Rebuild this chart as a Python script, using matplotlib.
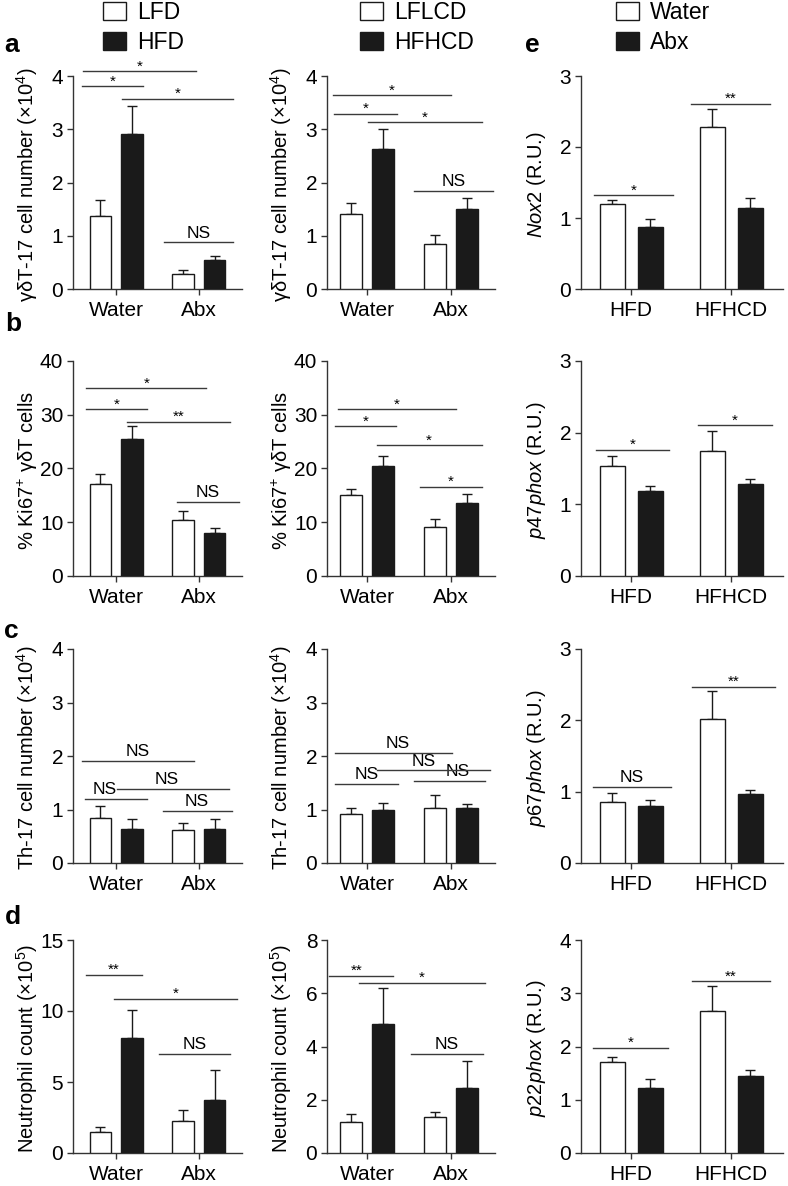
import matplotlib
matplotlib.use('Agg')
import matplotlib.pyplot as plt
import numpy as np

plt.rcParams['font.family'] = ['Liberation Sans', 'DejaVu Sans']
plt.rcParams['mathtext.fontset'] = 'custom'
plt.rcParams['mathtext.rm'] = 'Liberation Sans'
plt.rcParams['mathtext.it'] = 'Liberation Sans:italic'
plt.rcParams['mathtext.bf'] = 'Liberation Sans:bold'

# ---------------- data ----------------
groups_ab = ['Water', 'Abx']
groups_e = ['HFD', 'HFHCD']

legend_a = ['LFD', 'HFD']
legend_b = ['LFLCD', 'HFHCD']
legend_e = ['Water', 'Abx']

# column 1 (LFD / HFD)
a1_white = [1.375, 0.29]; a1_white_err = [0.29, 0.06]
a1_black = [2.92, 0.55];  a1_black_err = [0.52, 0.07]
b1_white = [17.1, 10.5];  b1_white_err = [1.8, 1.6]
b1_black = [25.5, 8.0];   b1_black_err = [2.4, 1.0]
c1_white = [0.84, 0.61];  c1_white_err = [0.22, 0.14]
c1_black = [0.64, 0.64];  c1_black_err = [0.19, 0.19]
d1_white = [1.51, 2.24];  d1_white_err = [0.33, 0.79]
d1_black = [8.13, 3.73];  d1_black_err = [1.93, 2.14]

# column 2 (LFLCD / HFHCD)
a2_white = [1.41, 0.84];  a2_white_err = [0.20, 0.17]
a2_black = [2.62, 1.51];  a2_black_err = [0.39, 0.19]
b2_white = [15.0, 9.05];  b2_white_err = [1.1, 1.55]
b2_black = [20.5, 13.6];  b2_black_err = [1.9, 1.6]
c2_white = [0.91, 1.03];  c2_white_err = [0.12, 0.24]
c2_black = [0.99, 1.03];  c2_black_err = [0.13, 0.08]
d2_white = [1.16, 1.37];  d2_white_err = [0.31, 0.18]
d2_black = [4.84, 2.45];  d2_black_err = [1.34, 1.00]

# column 3 (Water / Abx)
nox2_white = [1.20, 2.28];  nox2_white_err = [0.05, 0.25]
nox2_black = [0.87, 1.14];  nox2_black_err = [0.12, 0.14]
p47_white = [1.54, 1.75];   p47_white_err = [0.13, 0.27]
p47_black = [1.18, 1.28];   p47_black_err = [0.08, 0.07]
p67_white = [0.86, 2.02];   p67_white_err = [0.12, 0.39]
p67_black = [0.80, 0.97];   p67_black_err = [0.09, 0.06]
p22_white = [1.71, 2.66];   p22_white_err = [0.10, 0.47]
p22_black = [1.22, 1.45];   p22_black_err = [0.17, 0.11]

# significance annotations: (x_start, x_end, y, label, text_x or None)
sig_a1 = [(-0.40, 0.96, 4.09, '*', None), (-0.41, 0.33, 3.81, '*', None),
          (0.07, 1.41, 3.575, '*', None), (0.58, 1.41, 0.875, 'NS', None)]
sig_b1 = [(-0.36, 1.09, 34.9, '*', None), (-0.36, 0.37, 31.0, '*', None),
          (0.13, 1.38, 28.7, '**', None), (0.74, 1.48, 13.8, 'NS', None)]
sig_c1 = [(-0.41, 0.94, 1.91, 'NS', None), (-0.37, 0.37, 1.20, 'NS', -0.14),
          (0.01, 1.36, 1.38, 'NS', 0.61), (0.57, 1.40, 0.975, 'NS', 0.97)]
sig_d1 = [(-0.36, 0.31, 12.56, '**', None), (-0.03, 1.46, 10.86, '*', None),
          (0.52, 1.38, 6.96, 'NS', None)]

sig_a2 = [(-0.41, 1.00, 3.64, '*', None), (-0.40, 0.35, 3.29, '*', None),
          (0.01, 1.36, 3.13, '*', None), (0.55, 1.50, 1.84, 'NS', None)]
sig_b2 = [(-0.35, 1.05, 31.0, '*', None), (-0.39, 0.34, 27.9, '*', None),
          (0.11, 1.36, 24.3, '*', None), (0.63, 1.36, 16.6, '*', None)]
sig_c2 = [(-0.39, 1.01, 2.06, 'NS', 0.36), (0.11, 1.46, 1.73, 'NS', 0.67),
          (-0.38, 0.36, 1.47, 'NS', -0.01), (0.56, 1.40, 1.53, 'NS', 1.07)]
sig_d2 = [(-0.46, 0.30, 6.66, '**', -0.13), (-0.10, 1.40, 6.39, '*', None),
          (0.52, 1.38, 3.73, 'NS', None)]

sig_nox2 = [(-0.37, 0.42, 1.32, '*', None), (0.60, 1.39, 2.61, '**', None)]
sig_p47 = [(-0.35, 0.38, 1.76, '*', None), (0.67, 1.41, 2.10, '*', None)]
sig_p67 = [(-0.38, 0.40, 1.07, 'NS', None), (0.61, 1.44, 2.47, '**', None)]
sig_p22 = [(-0.38, 0.37, 1.98, '*', None), (0.61, 1.39, 3.23, '**', None)]

# ---------------- layout ----------------
W, H = 788, 1186
fig = plt.figure(figsize=(W / 100, H / 100), dpi=100)

col_left = [73, 327, 581]
col_width = [169, 168, 202]
col_xlim = [(-0.52, 1.52), (-0.48, 1.52), (-0.50, 1.52)]
row_top = [76, 361, 649, 940]
row_bot = [289, 576, 863, 1153]

lab_gamma = 'γδT-17 cell number (×10$^{4}$)'
lab_ki = '% Ki67$^{+}$ γδT cells'
lab_th = 'Th-17 cell number (×10$^{4}$)'
lab_neu = 'Neutrophil count (×10$^{5}$)'

panels = [
    (0, 0, groups_ab, a1_white, a1_white_err, a1_black, a1_black_err, sig_a1, lab_gamma, 4, [0, 1, 2, 3, 4]),
    (1, 0, groups_ab, b1_white, b1_white_err, b1_black, b1_black_err, sig_b1, lab_ki, 40, [0, 10, 20, 30, 40]),
    (2, 0, groups_ab, c1_white, c1_white_err, c1_black, c1_black_err, sig_c1, lab_th, 4, [0, 1, 2, 3, 4]),
    (3, 0, groups_ab, d1_white, d1_white_err, d1_black, d1_black_err, sig_d1, lab_neu, 15, [0, 5, 10, 15]),
    (0, 1, groups_ab, a2_white, a2_white_err, a2_black, a2_black_err, sig_a2, lab_gamma, 4, [0, 1, 2, 3, 4]),
    (1, 1, groups_ab, b2_white, b2_white_err, b2_black, b2_black_err, sig_b2, lab_ki, 40, [0, 10, 20, 30, 40]),
    (2, 1, groups_ab, c2_white, c2_white_err, c2_black, c2_black_err, sig_c2, lab_th, 4, [0, 1, 2, 3, 4]),
    (3, 1, groups_ab, d2_white, d2_white_err, d2_black, d2_black_err, sig_d2, lab_neu, 8, [0, 2, 4, 6, 8]),
    (0, 2, groups_e, nox2_white, nox2_white_err, nox2_black, nox2_black_err, sig_nox2, r'$\mathit{Nox2}$ (R.U.)', 3, [0, 1, 2, 3]),
    (1, 2, groups_e, p47_white, p47_white_err, p47_black, p47_black_err, sig_p47, r'$\mathit{p47phox}$ (R.U.)', 3, [0, 1, 2, 3]),
    (2, 2, groups_e, p67_white, p67_white_err, p67_black, p67_black_err, sig_p67, r'$\mathit{p67phox}$ (R.U.)', 3, [0, 1, 2, 3]),
    (3, 2, groups_e, p22_white, p22_white_err, p22_black, p22_black_err, sig_p22, r'$\mathit{p22phox}$ (R.U.)', 4, [0, 1, 2, 3, 4]),
]

EDGE = '#1a1a1a'
AXC = '#333333'
TICK_FS = 15
legend_handles = {}

for (r, c, cats, wv, we, bv, be, sig, ylabel, ymax, yticks) in panels:
    left, width = col_left[c], col_width[c]
    top, bot = row_top[r], row_bot[r]
    ax = fig.add_axes([left / W, 1 - bot / H, width / W, (bot - top) / H])
    x = np.arange(len(cats))
    off, bw = 0.19, (0.26 if c < 2 else 0.25)
    hw = ax.bar(x - off, wv, bw, color='white', edgecolor=EDGE, linewidth=1.0, zorder=3)
    hb = ax.bar(x + off, bv, bw, color=EDGE, edgecolor=EDGE, linewidth=1.0, zorder=3)
    ax.errorbar(x - off, wv, yerr=[np.zeros(len(wv)), we], fmt='none', ecolor=EDGE,
                elinewidth=1.0, capsize=3.5, capthick=1.0, zorder=2)
    ax.errorbar(x + off, bv, yerr=[np.zeros(len(bv)), be], fmt='none', ecolor=EDGE,
                elinewidth=1.0, capsize=3.5, capthick=1.0, zorder=2)
    if r == 0:
        legend_handles[c] = (hw, hb)
    ax.set_xlim(*col_xlim[c])
    ax.set_ylim(0, ymax)
    ax.set_yticks(yticks)
    ax.set_xticks(x)
    ax.set_xticklabels(cats)
    for s in ['top', 'right']:
        ax.spines[s].set_visible(False)
    for s in ['left', 'bottom']:
        ax.spines[s].set_color(AXC)
        ax.spines[s].set_linewidth(1.0)
    ax.tick_params(axis='both', direction='out', length=4.5, width=1.0, color=AXC,
                   labelsize=TICK_FS, pad=2.5)
    ax.tick_params(axis='x', pad=4)
    ax.set_ylabel(ylabel, fontsize=14.5)
    ax.yaxis.set_label_coords(-33 / width, 0.49)
    for (x1, x2, yv, lab, tx) in sig:
        ax.plot([x1, x2], [yv, yv], color='#3a3a3a', lw=1.0, clip_on=False, zorder=4)
        txx = (x1 + x2) / 2 if tx is None else tx
        if lab == 'NS':
            ax.annotate(lab, (txx, yv), xytext=(0, 3.5), textcoords='offset points',
                        ha='center', va='baseline', fontsize=12.5, annotation_clip=False)
        else:
            ax.annotate(lab, (txx, yv), xytext=(0, 0.5), textcoords='offset points',
                        ha='center', va='baseline', fontsize=11, annotation_clip=False)

# legends
legend_pos = [103, 360, 616]
legend_labels = [legend_a, legend_b, legend_e]
for c in range(3):
    fig.legend(legend_handles[c], legend_labels[c], loc='upper left',
               bbox_to_anchor=(legend_pos[c] / W, 1 - 1 / H), frameon=False,
               fontsize=16.5, handlelength=1.0, handleheight=0.8, labelspacing=0.3,
               handletextpad=0.5, borderpad=0, borderaxespad=0)

# panel letters
letters = [('a', 4, 52), ('b', 5, 331), ('c', 4, 638), ('d', 5, 924), ('e', 525, 52)]
for (t, px, py) in letters:
    fig.text(px / W, 1 - py / H, t, fontsize=19, fontweight='bold', ha='left', va='baseline')

fig.savefig('out.png', dpi=100)
